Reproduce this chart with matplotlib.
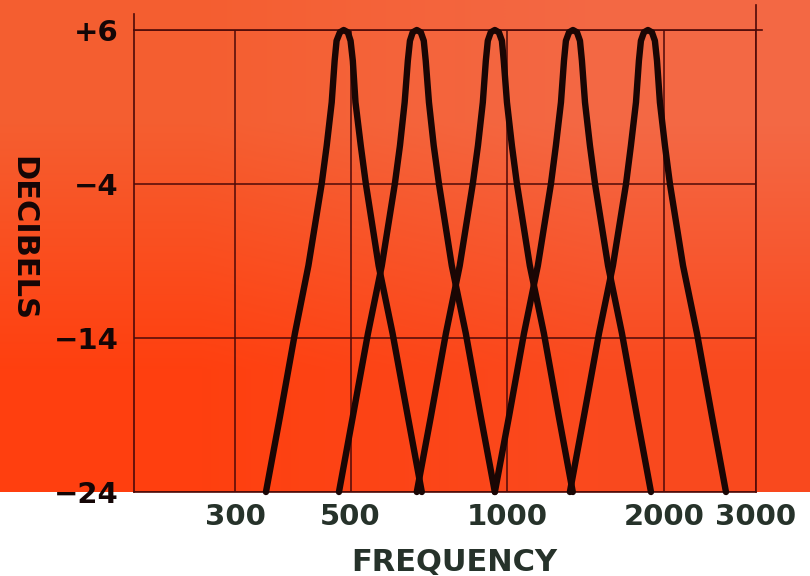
import numpy as np
import matplotlib
matplotlib.use('Agg')
import matplotlib.pyplot as plt
from matplotlib.ticker import NullLocator

# ---- data ----
response_db = [-24, -19.1, -13.7, -9.3, -4.0, -1.5, 1.3, 4.0, 5.3, 5.85, 6.0,
               5.85, 5.3, 4.0, 1.3, -1.5, -4.0, -9.3, -13.7, -19.1, -24]
filter1_hz = [344, 366, 391, 415, 440, 450, 460, 466, 470, 477, 485,
              494, 500, 505, 511, 523, 535, 566, 602, 644, 685]
filter2_hz = [475, 505, 540, 574, 608, 622, 635, 644, 650, 658, 670,
              682, 691, 697, 707, 722, 739, 782, 832, 889, 946]
filter3_hz = [670, 713, 762, 810, 858, 878, 897, 909, 917, 929, 946,
              963, 976, 984, 998, 1020, 1043, 1104, 1175, 1255, 1335]
filter4_hz = [946, 1007, 1076, 1144, 1212, 1239, 1267, 1284, 1295, 1313, 1336,
              1360, 1378, 1390, 1409, 1440, 1473, 1560, 1659, 1773, 1886]
filter5_hz = [1318, 1402, 1499, 1594, 1689, 1726, 1765, 1788, 1804, 1828, 1861,
              1894, 1919, 1937, 1962, 2006, 2051, 2173, 2311, 2470, 2627]

freq_ticks = [300, 500, 1000, 2000, 3000]
freq_labels = ['300', '500', '1000', '2000', '3000']
db_ticks = [6, -4, -14, -24]
db_labels = ['+6', '\u22124', '\u221214', '\u221224']

# ---- styling ----
W, H = 810, 576
grid_c = '#4e0a08'
curve_c = '#1a0604'
ylab_c = '#140606'
xlab_c = '#26322a'
font = dict(family='DejaVu Sans', weight='bold')

fig = plt.figure(figsize=(W / 100, H / 100), dpi=100, facecolor='white')

# orange paper backdrop (top part of the figure)
bottom_px = 492
bg = fig.add_axes([0, 1 - bottom_px / H, 1, bottom_px / H], zorder=-5)
grad = np.array([[[0.96, 0.37, 0.19], [0.955, 0.41, 0.27]],
                 [[1.00, 0.25, 0.06], [0.98, 0.29, 0.12]]])
bg.imshow(grad, aspect='auto', interpolation='bilinear', extent=[0, 1, 0, 1])
bg.axis('off')

left_px, right_px, top_px = 134, 756, 30
ax = fig.add_axes([left_px / W, 1 - bottom_px / H,
                   (right_px - left_px) / W, (bottom_px - top_px) / H])
ax.set_facecolor('none')
ax.set_xscale('log')
ax.set_xlim(192, 3000)
ax.set_ylim(-24, 6)

ax.set_xticks(freq_ticks, freq_labels)
ax.xaxis.set_minor_locator(NullLocator())
ax.set_yticks(db_ticks, db_labels)
ax.grid(True, color=grid_c, lw=1.1)
ax.tick_params(length=0)
ax.tick_params(axis='x', pad=8, labelsize=21, labelcolor=xlab_c)
ax.tick_params(axis='y', pad=11, labelsize=21, labelcolor=ylab_c)
for lab in ax.get_xticklabels() + ax.get_yticklabels():
    lab.set_fontfamily('DejaVu Sans')
    lab.set_fontweight('bold')
for s in ax.spines.values():
    s.set_color(grid_c)
    s.set_linewidth(1.2)

# small overshoots of the hand-drawn frame
ax.plot([0, 0], [1, 1.035], transform=ax.transAxes, color=grid_c, lw=1.2, clip_on=False)
ax.plot([1, 1], [1, 1.055], transform=ax.transAxes, color=grid_c, lw=1.2, clip_on=False)
ax.plot([1, 1.01], [1, 1], transform=ax.transAxes, color=grid_c, lw=1.2, clip_on=False)

for f in (filter1_hz, filter2_hz, filter3_hz, filter4_hz, filter5_hz):
    ax.plot(f, response_db, color=curve_c, lw=4.6, solid_joinstyle='round',
            solid_capstyle='round', clip_on=False, zorder=3)

ax.set_xlabel('FREQUENCY', fontsize=22, color=xlab_c, va='top', **font)
ax.xaxis.set_label_coords((454 - left_px) / (right_px - left_px),
                          (bottom_px - 548) / (bottom_px - top_px))
fig.text(23 / W, 1 - 238 / H, 'DECIBELS', rotation=-90, ha='center', va='center',
         fontsize=22, color=ylab_c, **font)

fig.savefig('out.png', dpi=100, facecolor=fig.get_facecolor())
